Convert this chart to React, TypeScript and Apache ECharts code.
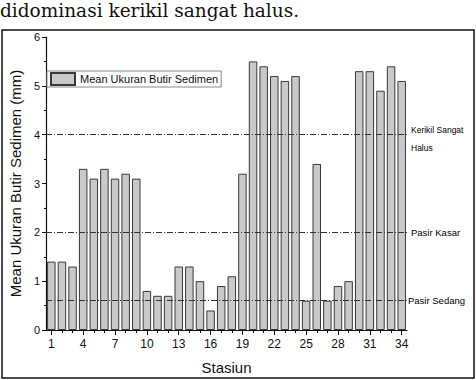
import React, { useEffect, useRef } from "react";
import * as echarts from "echarts";

const stations: string[] = Array.from({ length: 34 }, (_, i) => String(i + 1));
const meanSize: number[] = [
  1.4, 1.4, 1.3, 3.3, 3.1, 3.3, 3.1, 3.2, 3.1, 0.8, 0.7, 0.7, 1.3, 1.3, 1.0, 0.4, 0.9,
  1.1, 3.2, 5.5, 5.4, 5.2, 5.1, 5.2, 0.6, 3.4, 0.6, 0.9, 1.0, 5.3, 5.3, 4.9, 5.4, 5.1,
];
const classLines: { value: number; label: string }[] = [
  { value: 4, label: "Kerikil Sangat\nHalus" },
  { value: 2, label: "Pasir Kasar" },
  { value: 0.6, label: "Pasir Sedang" },
];
const headingText = "didominasi kerikil sangat halus.";
const seriesName = "Mean Ukuran Butir Sedimen";

export default function App() {
  const ref = useRef<HTMLDivElement>(null);
  useEffect(() => {
    document.body.style.margin = "0";
    const chart = echarts.init(ref.current!, null, { renderer: "svg" });
    const font = "Liberation Sans";
    chart.setOption({
      animation: false,
      backgroundColor: "#ffffff",
      textStyle: { fontFamily: font },
      title: {
        text: headingText,
        left: -5,
        top: -4,
        textStyle: { fontFamily: "DejaVu Serif", fontSize: 18.5, fontWeight: "normal", color: "#111" },
      },
      graphic: [
        {
          type: "rect",
          shape: { x: 2, y: 30, width: 472, height: 348 },
          style: { fill: "none", stroke: "#111", lineWidth: 1.5 },
          silent: true,
        },
      ],
      legend: {
        left: 47,
        top: 71,
        orient: "vertical",
        data: [{ name: seriesName, icon: "rect" }],
        backgroundColor: "#fff",
        borderColor: "#888",
        borderWidth: 1,
        padding: [1, 3],
        itemWidth: 24,
        itemHeight: 12,
        itemGap: 2,
        textStyle: { fontSize: 11, color: "#111", fontFamily: font },
      },
      grid: { left: 43, right: 69, top: 37, bottom: 49 },
      xAxis: [
        {
          type: "category",
          data: stations,
          name: "Stasiun",
          nameLocation: "middle",
          nameGap: 30,
          nameTextStyle: { fontSize: 15, color: "#111", fontFamily: font },
          axisLine: { lineStyle: { color: "#111", width: 1.2 } },
          axisTick: { show: true, interval: 0, alignWithLabel: true, length: 3, lineStyle: { color: "#111" } },
          axisLabel: { interval: 2, fontSize: 12, color: "#111", margin: 8, fontFamily: font },
          splitLine: { show: false },
        },
        {
          type: "category",
          data: stations,
          position: "bottom",
          axisLine: { show: false },
          axisTick: { show: true, interval: 2, alignWithLabel: true, length: 5, lineStyle: { color: "#111" } },
          axisLabel: { show: false },
          splitLine: { show: false },
        },
      ],
      yAxis: {
        type: "value",
        min: 0,
        max: 6,
        interval: 1,
        name: "Mean Ukuran Butir Sedimen (mm)",
        nameLocation: "middle",
        nameGap: 22,
        nameTextStyle: { fontSize: 15, color: "#111", fontFamily: font },
        axisLine: { show: true, lineStyle: { color: "#111", width: 1.2 } },
        axisTick: { show: true, length: 4, lineStyle: { color: "#111" } },
        minorTick: { show: true, splitNumber: 2, length: 2, lineStyle: { color: "#111" } },
        axisLabel: { fontSize: 11, color: "#111", margin: 6, fontFamily: font },
        splitLine: { show: false },
      },
      series: [
        {
          name: seriesName,
          type: "bar",
          data: meanSize,
          barCategoryGap: "20%",
          itemStyle: { color: "#c9c9c9", borderColor: "#3a3a3a", borderWidth: 1 },
          markLine: {
            symbol: "none",
            silent: true,
            lineStyle: { color: "#333", type: [6, 2, 1, 2], width: 1 },
            label: {
              position: "end",
              fontSize: 8,
              color: "#000",
              distance: 4,
              fontFamily: font,
              formatter: (p: any) => p.name,
            },
            data: classLines.map((c) => ({
              yAxis: c.value,
              name: c.label,
              label:
                c.value === 4
                  ? { position: "end", color: "#000", fontSize: 8.5, lineHeight: 18, offset: [0, 4] }
                  : { position: "end", color: "#000", fontSize: 9.5, offset: c.value < 1 ? [-3, 0] : [0, 0] },
            })),
          },
        },
      ],
    });
    return () => chart.dispose();
  }, []);
  return <div ref={ref} style={{ width: 476, height: 380 }} />;
}
